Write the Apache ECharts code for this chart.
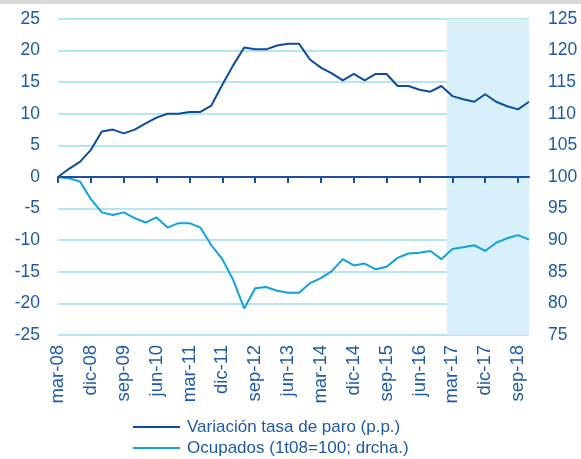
<!DOCTYPE html>
<html>
<head>
	<meta charset="utf-8">
	<title>Variación tasa de paro y ocupados</title>
	<style>
		html, body { margin: 0; padding: 0; background: #fff; }
		#chart { width: 581px; height: 455px; border-top: 4px solid #d9d9d9; }
	</style>
</head>
<body>
	<div id="chart"></div>

<script src="https://cdn.jsdelivr.net/npm/echarts@6/dist/echarts.min.js"></script>
<script>
// trimestres 1t08 .. 4t18
var quarters = [
	'mar-08','jun-08','sep-08','dic-08','mar-09','jun-09','sep-09','dic-09',
	'mar-10','jun-10','sep-10','dic-10','mar-11','jun-11','sep-11','dic-11',
	'mar-12','jun-12','sep-12','dic-12','mar-13','jun-13','sep-13','dic-13',
	'mar-14','jun-14','sep-14','dic-14','mar-15','jun-15','sep-15','dic-15',
	'mar-16','jun-16','sep-16','dic-16','mar-17','jun-17','sep-17','dic-17',
	'mar-18','jun-18','sep-18','dic-18'
];
var tasaParo = [
	0, 1.3, 2.4, 4.3, 7.2, 7.5, 6.9, 7.5, 8.5, 9.4, 10.0, 10.0,
	10.3, 10.3, 11.3, 14.6, 17.7, 20.5, 20.2, 20.2, 20.8, 21.1, 21.1, 18.6,
	17.3, 16.4, 15.3, 16.3, 15.3, 16.3, 16.3, 14.4, 14.4, 13.8, 13.5, 14.4,
	12.8, 12.3, 11.9, 13.1, 11.9, 11.2, 10.7, 11.9
];
var ocupados = [
	100, 99.8, 99.3, 96.5, 94.4, 94.0, 94.4, 93.5, 92.8, 93.6, 92.0, 92.7,
	92.7, 92.0, 89.2, 87.0, 83.7, 79.2, 82.4, 82.6, 82.0, 81.7, 81.7, 83.2,
	84.0, 85.1, 87.0, 86.0, 86.3, 85.4, 85.8, 87.2, 87.9, 88.0, 88.3, 87.0,
	88.6, 88.9, 89.2, 88.3, 89.6, 90.3, 90.8, 90.1
];
var labelIdx = [0, 3, 6, 9, 12, 15, 18, 21, 24, 27, 30, 33, 36, 39, 42];
var shadeFrom = 35.5, shadeTo = 43.2;   // previsión desde 1t17

(function(){
	var app = echarts.init(document.getElementById('chart'));
	var txt = '#1f5aa6';
	var font = '"Liberation Sans", Arial, sans-serif';

	var paroData = tasaParo.map(function(v, i){ return [i, v]; });
	var ocupData = ocupados.map(function(v, i){ return [i, v]; });

	option = {
		animation: false,
		textStyle: { fontFamily: font },
		grid: { left: 58, right: 52, top: 15, bottom: 124 },
		legend: {
			orient: 'vertical',
			left: 133,
			top: 413,
			padding: 0,
			itemWidth: 47,
			itemHeight: 14,
			itemGap: 1,
			icon: 'path://M0,0 L47,0 L47,2 L0,2 Z',
			textStyle: { color: txt, fontSize: 17, lineHeight: 20, fontFamily: font, padding: [0, 0, 0, 2] },
			data: ['Variación tasa de paro (p.p.)', 'Ocupados (1t08=100; drcha.)']
		},
		xAxis: [
			{
				type: 'value',
				min: 0,
				max: 43,
				interval: 3,
				position: 'bottom',
				axisLine: { show: false, onZero: false },
				axisTick: { show: false },
				splitLine: { show: false },
				axisLabel: {
					rotate: 90,
					margin: 10,
					color: txt,
					fontSize: 18.5,
					fontFamily: font,
					customValues: labelIdx,
					formatter: function(v){ return quarters[Math.round(v)] || ''; }
				}
			},
			{
				type: 'value',
				min: 0,
				max: 43,
				interval: 3,
				position: 'top',
				z: 5,
				axisLine: { show: true, onZero: true, onZeroAxisIndex: 0, lineStyle: { color: '#1f4e9c', width: 2 } },
				axisTick: { show: true, inside: true, length: 6, customValues: labelIdx, lineStyle: { color: '#1f4e9c', width: 2 } },
				axisLabel: { show: false },
				splitLine: { show: false }
			}
		],
		yAxis: [
			{
				type: 'value',
				min: -25,
				max: 25,
				interval: 5,
				axisLine: { show: false },
				axisTick: { show: false },
				axisLabel: { color: txt, fontSize: 17.5, fontFamily: font, margin: 18 },
				splitLine: { lineStyle: { color: '#b7e3f6', width: 2 } }
			},
			{
				type: 'value',
				min: 75,
				max: 125,
				interval: 5,
				position: 'right',
				axisLine: { show: false },
				axisTick: { show: false },
				axisLabel: { color: txt, fontSize: 17.5, fontFamily: font, margin: 19 },
				splitLine: { show: false }
			}
		],
		series: [
			{
				// zona sombreada (previsión)
				name: 'sombra',
				type: 'line',
				xAxisIndex: 0,
				yAxisIndex: 0,
				data: [],
				z: -1,
				silent: true,
				markArea: {
					silent: true,
					itemStyle: { color: '#d8f0fa' },
					data: [[{ xAxis: shadeFrom }, { xAxis: shadeTo }]]
				}
			},
			{
				name: 'Variación tasa de paro (p.p.)',
				type: 'line',
				xAxisIndex: 0,
				yAxisIndex: 0,
				data: paroData,
				symbol: 'none',
				color: '#0d4c9e',
				lineStyle: { color: '#0d4c9e', width: 2 },
				z: 3
			},
			{
				name: 'Ocupados (1t08=100; drcha.)',
				type: 'line',
				xAxisIndex: 0,
				yAxisIndex: 1,
				data: ocupData,
				symbol: 'none',
				color: '#12a0e0',
				lineStyle: { color: '#12a0e0', width: 2 },
				z: 3
			}
		]
	};
	app.setOption(option);
})();
</script>
</body>
</html>
